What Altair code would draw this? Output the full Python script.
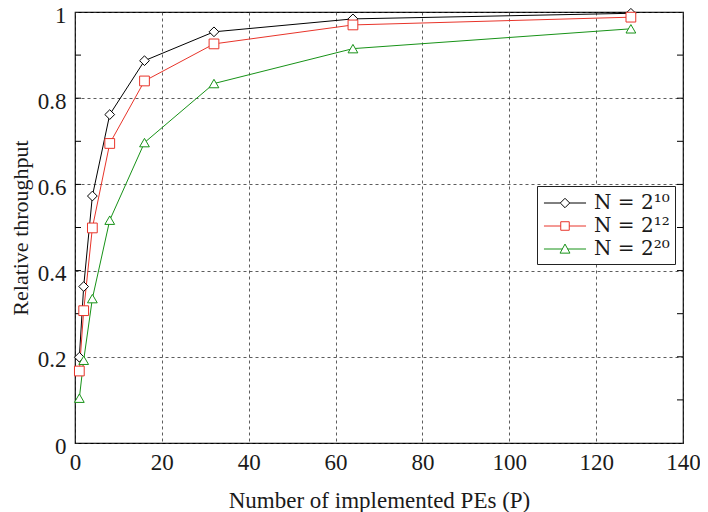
import altair as alt
import pandas as pd

# ---- data ----
P = [1, 2, 4, 8, 16, 32, 64, 128]
series_names = ["N = 2¹⁰", "N = 2¹²", "N = 2²⁰"]
thr_n10 = [0.199, 0.363, 0.573, 0.762, 0.887, 0.954, 0.984, 0.997]
thr_n12 = [0.167, 0.307, 0.499, 0.695, 0.840, 0.926, 0.970, 0.988]
thr_n20 = [0.104, 0.192, 0.335, 0.517, 0.697, 0.834, 0.915, 0.961]
colors = ["#000000", "#e8342a", "#179217"]
shapes = ["diamond", "square", "triangle-up"]
# legend symbols: a short line with the marker on it (unit = 11.5 px)
legend_symbols = [
    "M-1.83,0H-0.41M0.41,0H1.83M0,-0.41L0.41,0L0,0.41L-0.41,0Z",
    "M-1.83,0H-0.37M0.37,0H1.83M-0.37,-0.37H0.37V0.37H-0.37Z",
    "M-1.83,0H-0.23M0.23,0H1.83M0,-0.43L0.43,0.36L-0.43,0.36Z",
]
x_ticks = [0, 20, 40, 60, 80, 100, 120, 140]
y_ticks = [0, 0.2, 0.4, 0.6, 0.8, 1.0]
minor_y = [0.1, 0.2, 0.3, 0.4, 0.5, 0.6, 0.7, 0.8, 0.9]

rows = []
for name, vals in zip(series_names, [thr_n10, thr_n12, thr_n20]):
    for p, v in zip(P, vals):
        rows.append({"P": p, "thr": v, "series": name})
df = pd.DataFrame(rows)
leg_df = pd.DataFrame({"label": series_names})
tick_df = pd.DataFrame({"v": minor_y})

FONT = "Liberation Serif, DejaVu Serif, serif"
LEG_FONT = "DejaVu Serif, serif"
W, H = 608, 431

xs = alt.Scale(domain=[0, 140], nice=False, zero=False)
ys = alt.Scale(domain=[0, 1], nice=False)

x_enc = alt.X("P:Q", scale=xs,
              axis=alt.Axis(values=x_ticks, title="Number of implemented PEs (P)",
                            format="d", labelFlush=False))
y_enc = alt.Y("thr:Q", scale=ys,
              axis=alt.Axis(values=y_ticks, title="Relative throughput", format="~g",
                            labelFlush=False, titleFontSize=22))

color_scale = alt.Scale(domain=series_names, range=colors)

lines = alt.Chart(df).mark_line(strokeWidth=1).encode(
    x=x_enc, y=y_enc,
    color=alt.Color("series:N", scale=color_scale, legend=None),
    detail="series:N",
)

points = alt.Chart(df).mark_point(size=95, strokeWidth=1, fill="white", fillOpacity=1, opacity=1).encode(
    x=alt.X("P:Q", scale=xs),
    y=alt.Y("thr:Q", scale=ys),
    stroke=alt.Stroke("series:N", scale=color_scale, legend=None),
    shape=alt.Shape("series:N", scale=alt.Scale(domain=series_names, range=shapes), legend=None),
)

leg = alt.Legend(title=None, orient="none", legendX=462, legendY=174)
legend_layer = alt.Chart(leg_df).mark_point(opacity=0, strokeWidth=1).encode(
    shape=alt.Shape("label:N", scale=alt.Scale(domain=series_names, range=legend_symbols), legend=leg),
    stroke=alt.Stroke("label:N", scale=alt.Scale(domain=series_names, range=colors), legend=leg),
)

ticks_left = alt.Chart(tick_df).mark_rule(color="black", strokeWidth=1).encode(
    y=alt.Y("v:Q", scale=ys), x=alt.value(0), x2=alt.value(6)
)
ticks_right = alt.Chart(tick_df).mark_rule(color="black", strokeWidth=1).encode(
    y=alt.Y("v:Q", scale=ys), x=alt.value(W - 6), x2=alt.value(W)
)

chart = alt.layer(ticks_left, ticks_right, lines, points, legend_layer).resolve_scale(
    shape="independent", stroke="independent"
).properties(
    width=W, height=H,
    autosize=alt.AutoSizeParams(type="none"),
    padding={"left": 67, "top": 4, "right": 17, "bottom": 72},
).configure_view(
    stroke="black", strokeWidth=1.2
).configure_axis(
    domain=False, ticks=False,
    grid=True, gridColor="#333333", gridDash=[3, 3], gridWidth=0.8, gridOpacity=1,
    labelFont=FONT, labelFontSize=23, labelColor="#1a1a1a",
    titleFont=FONT, titleFontSize=23, titleFontWeight="normal", titleColor="#1a1a1a",
).configure_axisY(
    labelPadding=9, titlePadding=5, labelOffset=3
).configure_axisX(
    labelPadding=8, titlePadding=15
).configure_legend(
    strokeColor="#222222", fillColor="white", padding=5, cornerRadius=0,
    labelFont=LEG_FONT, labelFontSize=20, labelColor="#1a1a1a",
    symbolOffset=11, labelOffset=17,
    symbolSize=529, symbolStrokeWidth=1, symbolOpacity=1, symbolFillColor="white",
    rowPadding=1,
)

chart.save("out.html", embed_options={"renderer": "svg", "actions": False})
